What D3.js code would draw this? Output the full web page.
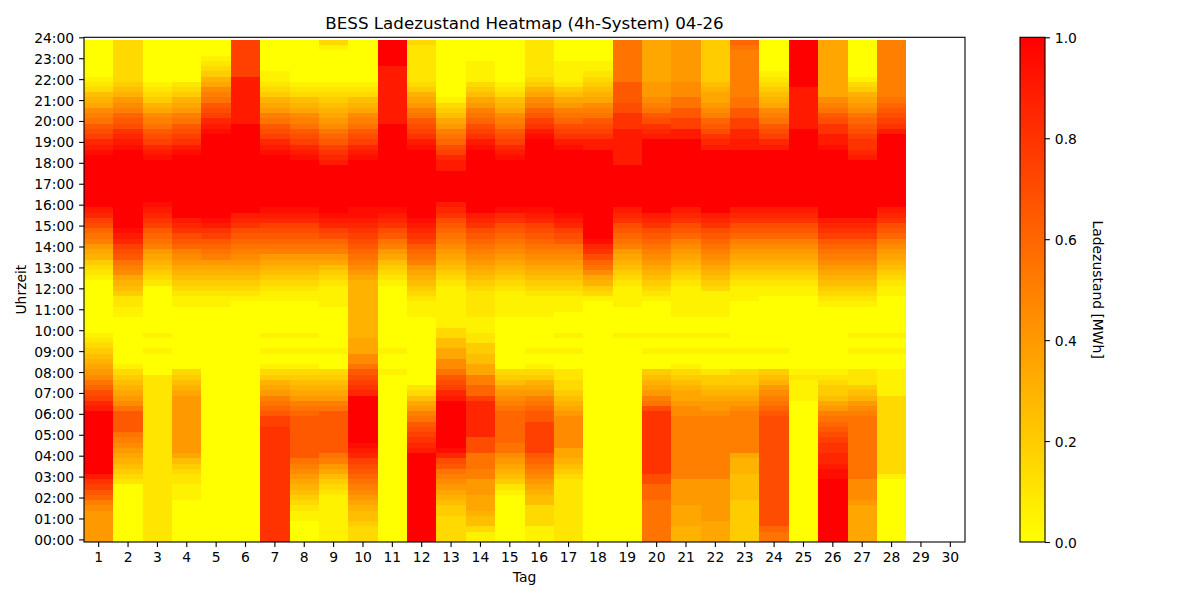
<!DOCTYPE html>
<html>
<head>
<meta charset="utf-8">
<script src="https://cdn.jsdelivr.net/npm/d3@7"></script>
<style>
  body { margin: 0; background: #ffffff; }
  svg { font-family: "DejaVu Sans", sans-serif; }
</style>
</head>
<body>
<div class="chart"></div>
<script>
// day columns and hour tick labels
var days = d3.range(1, 31);
var hourLabels = d3.range(0, 25).map(h => String(h).padStart(2, "0") + ":00");
var colorbarTicks = [0.0, 0.2, 0.4, 0.6, 0.8, 1.0];

// state of charge per 15 min slot (00:00 first), one letter per slot:
// a = 0.00, b = 0.05, c = 0.10 ... u = 1.00 MWh. spaces only for reading.
var socLevels = "abcdefghijklmnopqrstu";
var socByDay = [
  "iiiiii jkmnpqs uuuuuuuuuu uu srpomlji hgfedcb aaaaaaaaaa bcdeghiklmoprs uuuuuuuuuu tsrponlkjhgfdcb aaaaaaa",
  "aaaaaaaaaa a cdefghijkl nnnn ljihgfed b aaaaaaaaa bbcc efghjklnoprst uuuuuuuuuu uuuuu tsrqonmkjigfe dddddddd",
  "cccccccccc cccccccccc cccccccccc cc aaaa b aa b aaaaaaaaa cdefghiklmnpqrst uuuuuuuu tsrponlkjhgedcb aaaaaaaa",
  "aaaaaaaa bbbccdefh iiiiiiiiii i hgfed aaaaaaaaaa aa bb cdefghijkmnoqrs uuuuuuuuuu uu tsqponlkihgedc aaaaaaaa",
  "aaaaaaaaaa aaaaaaaaaa aaaaaaaaaa aaaaaaaaaa aaaaa bb cdefghiklmnpqst uuuuuuuuuu uuuuuu tsrponlkjhgedcb aaa",
  "aaaaaaaaaa aaaaaaaaaa aaaaaaaaaa aaaaaaaaaa aaaaaa bc defghijklmnoqrs uuuuuuuuuu uuuuuuu sssssssss ppppppp",
  "qqqqqqqqqq qqqqqqqqqq qq pp nmlkihged b aa b aa b aaaaaa bbc defghiklmnoprst uuuuuuuuuu tsrponlkihgedc bb aaaaaa",
  "aaaa bbcdefghijkl nnnnnnnn mlkihgfed b aa b aa b aaaaaa bbc defghiklmnoprst uuuuuuuuu tsrponlkjhgfdcb aaaaaaaa",
  "bbbbbbbbb cd efhikl nnnnnnnn lkihgfed aaa b aaaaaaaa bbbb cdefhiklmoprst uuuuuuuuu srqpnmljihgfedcb aaaaaa b d",
  "ddd effghijklmnop rst uuuuuuuuu rqpon l jj hhh gggggggggg g hijklmnopqrstt uuuuuuuuu tsrponlkjhgfdcb aaaaaaaa",
  "aaaaaaaaaa aaaaaaaaaa aaaaaaaaaa aa b aaa b aaaaaaaaaa aa bcdefhiklnoqrst uuuuuuuuuu uuuuuu ssssssssss s uuuuu",
  "uuuuuuuuuu uuuuuuu srqponlkihfdc aaaaaaaaaa aaa bbbc defghiklmnpqrst uuuuuuuuuu uuu tsqponlkihged ccccccc d",
  "ddddd ee fghijklnort uuuuuuuuu srponl jj hh ff dd bbbbbbbb cdefghijklmnoqrs uuuuuu ssrpomlkihfedb aaaaaaaaaa a",
  "bbdffghhhiiikklllooo rrrrrrr pmmkkh h ff ee cc bbb ccccc defghijklmnoqrs uuuuuuuuuu uu tsqpomlkihfed bbbb aaaa",
  "aaaaaaaaa bcefghijl l mmmmmm lkjihfed aaaaaaaaaa bbbbb cdefghijklmnoqrt uuuuuuuuu tsrponlkjhgfdcb aaaaaaaa",
  "bbb dddd ffghijklmn pppppp nnmlkihged b aa b aaaaaa bbbb cdefghijklmnoprst uuuuuuuuuu uuu tsqpnmkjhged ccccccc",
  "cccccccccc cc defghh jjjjjj ihgfeddcc aaa b aa b aaaa bbb cdefghijklnoprst uuuuuuuuuu uu tsqpomlkihfec bbbb aaaa",
  "aaaaaaaaaa aaaaaaaaaa aaaaaaaaaa aaaaaaaaaa aaaaaa bdeghjlmoqrt uuuuuuuuuu uuuuuuu ssqponlkjhgfed cbb aaaa",
  "aaaaaaaaaa aaaaaaaaaa aaaaaaaaaa aaaaaaaaa b aaaaa bbbb cdefghiklmnoqrs uuuuuuuu sssssss qqq oo nnnn llllllll",
  "llllllll mmm oo qqqqqqqqqq qq olkihgfe aaa b aa b aaaaaa bc defghijklmnoqrs uuuuuuuuuu uuuu s rq on l kj iii hhhhhhhh",
  "ggg hhhh iiiii kkkkkkkkkk kk jjihhgfed b aa b aa b aaa bbbbbb cdefghijkmnoqrs uuuuuuuuuu uuu ss pp nn ll jjj iiiiiiii",
  "hhhh iiiiiiii kkkkkkkkkk kk jiihgfeec aaa b aa b aaa bbbbb defghijklmnoqrs uuuuuuuuuu uu srqonmkjihhgf eeeeeeee",
  "eeeeeeee fffff ggg h kkkkkkkk jihgfeed aaa b aaaaaaaaa bbb cdefghijkmnoqrs uuuuuuuuuu u ss rr pp nn ll kkkkkkkkk l m",
  "ll m oooooooooo oooooooooo o nmlkjigfe aaa b aaaaaaaaaa bb cdefghijkmnoqrs uuuuuuuuuu u srponlkjhgfed c b aaaaaa",
  "aaaaaaaaaa aaaaaaaaaa aaaaaaa bbbb c b aaaaaaaaaa aaaa bb cdefghijkmnoqrs uuuuuuuuuu uuuuu ssssssss uuuuuuuuu",
  "uuuuuuuuuu uu ttsrrqqponmlkihfeedcb aaaaaaaaaa aa b cdefghijklmnpqrs uuuuuuuuuu uuu tssqqonlkj hhhhhhhhhh h",
  "hhhhhhh i jjjj llllllllll ll kjigfeccc aaa b aa b aaaaa b cdefghijklmnpqrs uuuuuuuuuu u srqqponmljihged b aaaaaaa",
  "aaaaaaaaaa aa b dddddddddd ddddd bbbbb aaa b aa b aaaaaaa bb cdefghijkmnoqrs uuuuuuuuuu uuuu sqponml kkkkkkkkkk k",
  null,
  null
];

// decode the letters into numbers
var socValues = socByDay.map(function (s) {
  if (!s) return null;
  var v = s.replace(/ /g, "").split("").map(c => socLevels.indexOf(c) / 20);
  if (v.length !== 96) console.warn("slot count", v.length);
  return v;
});

var svgWidth = 1200;
var svgHeight = 600;

var plot = { left: 84, right: 965, top: 37.3, bottom: 542 };
var cbar = { left: 1020, right: 1045 };

var svg = d3.select(".chart")
  .append("svg")
  .attr("width", svgWidth)
  .attr("height", svgHeight);

// scales
var xScale = d3.scaleBand()
  .domain(days)
  .range([plot.left, plot.right])
  .padding(0);

// slot index scale, top is left half a slot empty like the reference
var yScale = d3.scaleLinear()
  .domain([-0.5, 96])
  .range([plot.bottom, plot.top]);

var colorScale = d3.scaleLinear()
  .domain([0, 1])
  .range(["#ffff00", "#ff0000"])
  .clamp(true);

// flatten cells
var cells = [];
socValues.forEach(function (vals, di) {
  if (!vals) return;
  vals.forEach(function (v, slot) {
    cells.push({ day: days[di], slot: slot, value: v });
  });
});

svg.append("g")
  .attr("shape-rendering", "crispEdges")
  .selectAll("rect")
  .data(cells)
  .enter()
  .append("rect")
  .attr("x", d => xScale(d.day))
  .attr("width", xScale.bandwidth())
  .attr("y", d => yScale(d.slot + 0.5))
  .attr("height", d => yScale(d.slot - 0.5) - yScale(d.slot + 0.5))
  .attr("fill", d => colorScale(d.value));

// axes
var tickLen = 4.9;
var fontSize = "13.9px";

var bottomAxis = d3.axisBottom(xScale)
  .tickSize(tickLen)
  .tickSizeOuter(0)
  .tickPadding(10.2 - tickLen);

var xAxis = svg.append("g")
  .attr("transform", `translate(0, ${plot.bottom})`)
  .call(bottomAxis);

var leftAxis = d3.axisLeft(yScale)
  .tickValues(d3.range(0, 97, 4))
  .tickFormat((d, i) => hourLabels[i])
  .tickSize(tickLen)
  .tickSizeOuter(0)
  .tickPadding(tickLen);

var yAxis = svg.append("g")
  .attr("transform", `translate(${plot.left}, 0)`)
  .call(leftAxis);

[xAxis, yAxis].forEach(function (ax) {
  ax.select(".domain").remove();
  ax.selectAll(".tick line").attr("stroke", "#000").attr("stroke-width", 1.1);
  ax.selectAll(".tick text")
    .attr("fill", "#000")
    .style("font-size", fontSize)
    .style("font-family", "DejaVu Sans");
});
yAxis.selectAll(".tick text").attr("dy", "0.36em");

// plot frame
svg.append("rect")
  .attr("x", plot.left)
  .attr("y", plot.top)
  .attr("width", plot.right - plot.left)
  .attr("height", plot.bottom - plot.top)
  .attr("fill", "none")
  .attr("stroke", "#000")
  .attr("stroke-width", 1.1);

// title and axis labels
svg.append("text")
  .attr("x", (plot.left + plot.right) / 2)
  .attr("y", 29)
  .attr("text-anchor", "middle")
  .style("font-size", "16.7px")
  .text("BESS Ladezustand Heatmap (4h-System) 04-26");

svg.append("text")
  .attr("x", (plot.left + plot.right) / 2)
  .attr("y", 582)
  .attr("text-anchor", "middle")
  .style("font-size", fontSize)
  .text("Tag");

svg.append("text")
  .attr("transform", `translate(26, ${(plot.top + plot.bottom) / 2}) rotate(-90)`)
  .attr("text-anchor", "middle")
  .style("font-size", fontSize)
  .text("Uhrzeit");

// colorbar
var defs = svg.append("defs");
var grad = defs.append("linearGradient")
  .attr("id", "socGradient")
  .attr("x1", 0).attr("y1", 1)
  .attr("x2", 0).attr("y2", 0);

grad.selectAll("stop")
  .data(d3.range(0, 1.0001, 0.1))
  .enter()
  .append("stop")
  .attr("offset", d => d)
  .attr("stop-color", d => colorScale(d));

var cScale = d3.scaleLinear()
  .domain([0, 1])
  .range([plot.bottom, plot.top]);

svg.append("rect")
  .attr("x", cbar.left)
  .attr("y", plot.top)
  .attr("width", cbar.right - cbar.left)
  .attr("height", plot.bottom - plot.top)
  .attr("fill", "url(#socGradient)")
  .attr("stroke", "#000")
  .attr("stroke-width", 1.1);

var cAxis = svg.append("g")
  .attr("transform", `translate(${cbar.right}, 0)`)
  .call(d3.axisRight(cScale)
    .tickValues(colorbarTicks)
    .tickFormat(d3.format(".1f"))
    .tickSize(tickLen)
    .tickSizeOuter(0)
    .tickPadding(tickLen));

cAxis.select(".domain").remove();
cAxis.selectAll(".tick line").attr("stroke", "#000").attr("stroke-width", 1.1);
cAxis.selectAll(".tick text")
  .attr("fill", "#000")
  .attr("dy", "0.36em")
  .style("font-size", fontSize)
  .style("font-family", "DejaVu Sans");

svg.append("text")
  .attr("transform", `translate(1093, ${(plot.top + plot.bottom) / 2}) rotate(90)`)
  .attr("text-anchor", "middle")
  .style("font-size", fontSize)
  .text("Ladezustand [MWh]");
</script>
</body>
</html>
